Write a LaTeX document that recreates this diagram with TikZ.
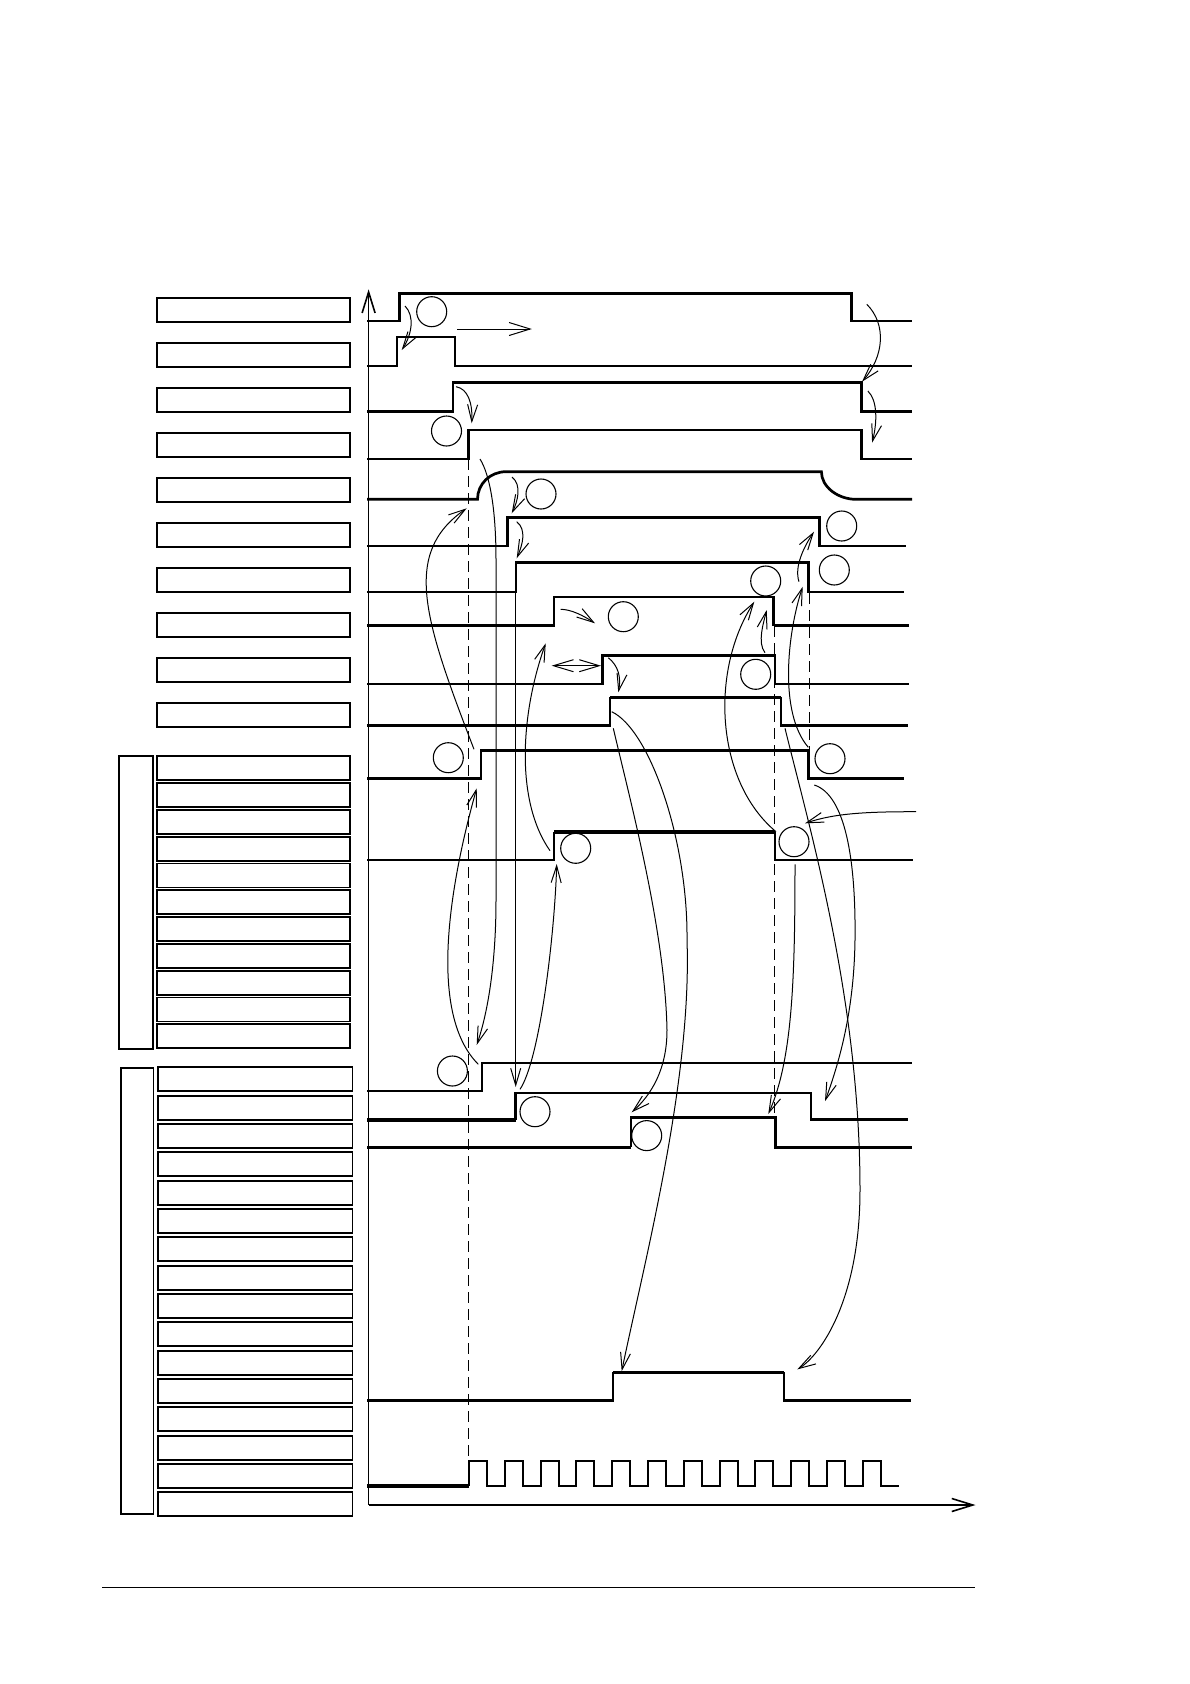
\documentclass[tikz,border=0pt]{standalone}
\usetikzlibrary{arrows.meta}
\tikzset{
    labelbox/.style = {draw, line width=1.8pt, rectangle, minimum width=193pt, minimum height=24pt, inner sep=0pt},
    groupbox/.style = {draw, line width=1.8pt},
    sig/.style = {line width=2.7pt},
    sigheavy/.style = {line width=3.6pt},
    siglight/.style = {line width=2pt},
    ring/.style = {draw, circle, line width=1.1pt, minimum size=30pt, inner sep=0pt},
    cause/.style = {line width=1pt, -{Straight Barb[length=17pt,width=10pt]}},
    axis/.style = {line width=1.6pt, -{Straight Barb[length=21pt,width=13pt]}},
    guide/.style = {line width=1.2pt, dash pattern=on 11pt off 6pt},
}

\begin{document}
\begin{tikzpicture}[x=1pt, y=-1pt]
\useasboundingbox (0,0) rectangle (1190,1684);

\foreach \i in {0,...,9}
    \node[labelbox] (top\i) at (253.8, 310.3+45*\i) {};
\foreach \i in {0,...,10}
    \node[labelbox] (ga\i) at (253.8, 768.3+26.8*\i) {};
\foreach \i in {0,...,15}
    \node[labelbox, minimum width=194.5pt] (gb\i) at (255.2, 1079.3+28.33*\i) {};
\draw[groupbox] (119.3,756.3) rectangle (152.7,1049.3);
\draw[groupbox] (121,1068.3) rectangle (153.5,1514.3);

\coordinate (origin) at (368.6,1505);
\coordinate (ytip) at (368.6,289.3);
\coordinate (xtip) at (975.5,1505);
\draw[axis] (origin) -- (ytip);
\draw[axis] (origin) -- (xtip);

\draw[sig] (367,321) -| (399.3,293.7) -| (851.4,321) -- (912,321);
\draw[sig] (367,366) -| (397,337) -| (455,366) -- (912,366);
\draw[sig] (367,411.5) -| (452.9,382.7) -| (861.8,411.5) -- (912,411.5);
\draw[sig] (367,459) -| (468.6,430) -| (861.8,459) -- (912,459);
\draw[sig] (367,499.3) -- (477.5,499.3) .. controls (477.5,484) and (490,471.7) .. (506,471.7)
    -- (821.4,471.7) .. controls (821.4,487) and (838,499.3) .. (856,499.3) -- (912,499.3);
\draw[sig] (367,546) -| (507.5,517.7) -| (819.3,546) -- (906,546);
\draw[sig] (367,592) -| (516,562.7) -| (808.5,592) -- (903.5,592);
\draw[sig] (367,625.5) -| (554,597) -| (773.5,625.5);
\draw[sigheavy] (773.5,625.5) -- (909,625.5);
\draw[sig] (367,684) -| (602.3,655.8) -| (775,684);
\draw[siglight] (775,684) -- (909,684);
\draw[sig] (367,725.8) -| (610,697.3);
\draw[sigheavy] (610,697.3) -- (781,697.3);
\draw[sig] (781,697.3) |- (908,725.8);
\draw[sig] (367,778.7) -| (481,750.7) -| (808.7,778.7) -- (904,778.7);
\draw[sig] (367,860) -| (554,832.2);
\draw[sigheavy] (554,832.2) -- (775,832.2);
\draw[sig] (775,832.2) |- (912.7,860);
\draw[sig] (367,1091) -| (482,1063) -- (911.7,1063);
\draw[sigheavy] (367,1119.8) -- (515.7,1119.8);
\draw[sig] (515.7,1119.8) |- (811,1093) |- (907.5,1119.8);
\draw[sigheavy] (367,1147.4) -- (631,1147.4);
\draw[sig] (631,1147.4) |- (775.7,1117.8) |- (911.7,1147.4);
\draw[sig] (367,1400.5) -| (612.9,1372.3);
\draw[sigheavy] (612.9,1372.3) -- (784,1372.3);
\draw[sig] (784,1372.3) |- (911.4,1400.5);
\draw[sigheavy] (367,1486) -- (469,1486);
\draw[siglight] (469,1486) \foreach \k in {0,...,11} { -- ++(0,-25.3) -- ++(17.9,0) -- ++(0,25.3) -- ++(17.9,0) };

\draw[guide] (468.5,459) -- (468.5,1460);
\draw[guide] (774.5,626) -- (774.5,1117.8);
\draw[guide] (809.3,593) -- (809.3,750);

\node[ring] (c1) at (431.7,311.7) {};
\node[ring] (c2) at (446.5,431) {};
\node[ring] (c3) at (541,494) {};
\node[ring] (c4) at (841.7,526) {};
\node[ring] (c5) at (765.7,581) {};
\node[ring] (c6) at (834.3,570) {};
\node[ring] (c7) at (623.3,616.7) {};
\node[ring] (c8) at (755.7,674.3) {};
\node[ring] (c9) at (448.3,757.7) {};
\node[ring] (c10) at (830,758.7) {};
\node[ring] (c11) at (575.7,848.3) {};
\node[ring] (c12) at (794,841.7) {};
\node[ring] (cb1) at (452.4,1071) {};
\node[ring] (cb2) at (535,1111.7) {};
\node[ring] (cb3) at (646.7,1135.6) {};

\coordinate (s1rise) at (405,306);
\coordinate (s2rise) at (401.7,350);
\coordinate (run0) at (457.3,329);
\coordinate (run1) at (531.8,329);
\coordinate (s3rise) at (456,386.7);
\coordinate (s4rise) at (471.7,423.3);
\coordinate (s1fall) at (866.8,304.3);
\coordinate (s3fall) at (862,381.7);
\coordinate (s3foot) at (867.9,391);
\coordinate (s4fall) at (872.1,442.7);
\coordinate (s4foot) at (480,459);
\coordinate (drop0) at (496,560);
\coordinate (drop1) at (496,900);
\coordinate (sb1rise) at (476.7,1045);
\coordinate (s11rise) at (474,749.3);
\coordinate (s5rise) at (466.7,508.3);
\coordinate (sb1foot) at (478.3,1064.3);
\coordinate (s11foot) at (476.7,788.3);
\coordinate (s5top) at (512,477);
\coordinate (s6rise) at (511.7,513.3);
\coordinate (s6top) at (516.7,521.7);
\coordinate (s7rise) at (516.7,558.3);
\coordinate (s7foot) at (515.7,593);
\coordinate (sb2rise) at (515.7,1087);
\coordinate (sb2top) at (520,1089.3);
\coordinate (s12foot) at (556.7,864);
\coordinate (s12rise) at (550,850.7);
\coordinate (s8foot) at (545.7,643.3);
\coordinate (s8top) at (560.7,609.3);
\coordinate (c7left) at (595,623.3);
\coordinate (gap0) at (551.7,665.7);
\coordinate (gap1) at (601,665.7);
\coordinate (s9rise) at (608.3,657.7);
\coordinate (s10rise) at (618.3,692.3);
\coordinate (s10low) at (613.3,728.3);
\coordinate (bend1) at (667,1030);
\coordinate (sb3rise) at (631.7,1112.3);
\coordinate (s10top) at (611.7,711.7);
\coordinate (bend2) at (687,940);
\coordinate (screise) at (621.7,1371.2);
\coordinate (s12fall) at (776,831.7);
\coordinate (c5foot) at (754.3,601.7);
\coordinate (c8top) at (765,652.7);
\coordinate (c5bot) at (766.7,610);
\coordinate (s11fall) at (808.3,747.3);
\coordinate (s7fall) at (802.7,586.7);
\coordinate (s7corner) at (799,581.7);
\coordinate (s6fall) at (814,531.7);
\coordinate (outer) at (916,811.7);
\coordinate (c12side) at (805,823.3);
\coordinate (s11foot2) at (814.3,785);
\coordinate (bend3) at (855,940);
\coordinate (sb2fall) at (825,1101.2);
\coordinate (s10fall) at (785,728.3);
\coordinate (bend4) at (860,1190);
\coordinate (scfall) at (797.3,1369.4);
\coordinate (c12bot) at (795,864.4);
\coordinate (sb3fall) at (768.3,1114);

\draw[cause] (s1rise) .. controls +(10,10) and +(10,-15) .. (s2rise);
\draw[cause, -{Straight Barb[length=21pt,width=13pt]}] (run0) -- (run1);
\draw[cause] (s3rise) .. controls +(12,2) and +(1,-20) .. (s4rise);
\draw[cause] (s1fall) .. controls +(20,20) and +(22,-25) .. (s3fall);
\draw[cause] (s3foot) .. controls +(10,10) and +(5,-20) .. (s4fall);
\draw[cause] (s4foot) .. controls +(10,16) and +(0,-50) .. (drop0) -- (drop1)
    .. controls +(0,60) and +(12,-35) .. (sb1rise);
\draw[cause] (s11rise) .. controls +(-50,-130) and +(-65,45) .. (s5rise);
\draw[cause] (sb1foot) .. controls +(-50,-50) and +(-28,100) .. (s11foot);
\draw[cause] (s5top) .. controls +(10,8) and +(6,-12) .. (s6rise);
\draw[cause] (s6top) .. controls +(10,8) and +(6,-14) .. (s7rise);
\draw[cause] (s7foot) -- (sb2rise);
\draw[cause] (sb2top) .. controls +(20,-30) and +(-2,70) .. (s12foot);
\draw[cause] (s12rise) .. controls +(-35,-50) and +(-25,70) .. (s8foot);
\draw[cause] (s8top) .. controls +(10,0) and +(-12,-8) .. (c7left);
\draw[cause, {Straight Barb[length=20pt,width=12pt]}-{Straight Barb[length=20pt,width=12pt]}] (gap0) -- (gap1);
\draw[cause] (s9rise) .. controls +(10,8) and +(3,-15) .. (s10rise);
\draw[cause] (s10low) .. controls +(16.7,71.7) and +(-2,-100) .. (bend1)
    .. controls +(0,40) and +(19,-17) .. (sb3rise);
\draw[cause] (s10top) .. controls +(38,18) and +(1,-100) .. (bend2)
    .. controls +(5,140) and +(23,-111) .. (screise);
\draw[cause] (s12fall) .. controls +(-60,-50) and +(-45,70) .. (c5foot);
\draw[cause] (c8top) .. controls +(-8,-10) and +(-3,12) .. (c5bot);
\draw[cause] (s11fall) .. controls +(-30,-35) and +(-15,45) .. (s7fall);
\draw[cause] (s7corner) .. controls +(-5,-15) and +(-10,15) .. (s6fall);
\draw[cause] (outer) .. controls +(-50,0) and +(30,-10) .. (c12side);
\draw[cause] (s11foot2) .. controls +(31,10) and +(1,-80) .. (bend3)
    .. controls +(-1,70) and +(15,-41) .. (sb2fall);
\draw[cause] (s10fall) .. controls +(25,102) and +(0,-190) .. (bend4)
    .. controls +(0,110) and +(23,-14) .. (scfall);
\draw[cause] (c12bot) .. controls +(0,116) and +(24,-54) .. (sb3fall);

\draw[line width=1.4pt] (102,1587.3) -- (975,1587.3);
\end{tikzpicture}
\end{document}
